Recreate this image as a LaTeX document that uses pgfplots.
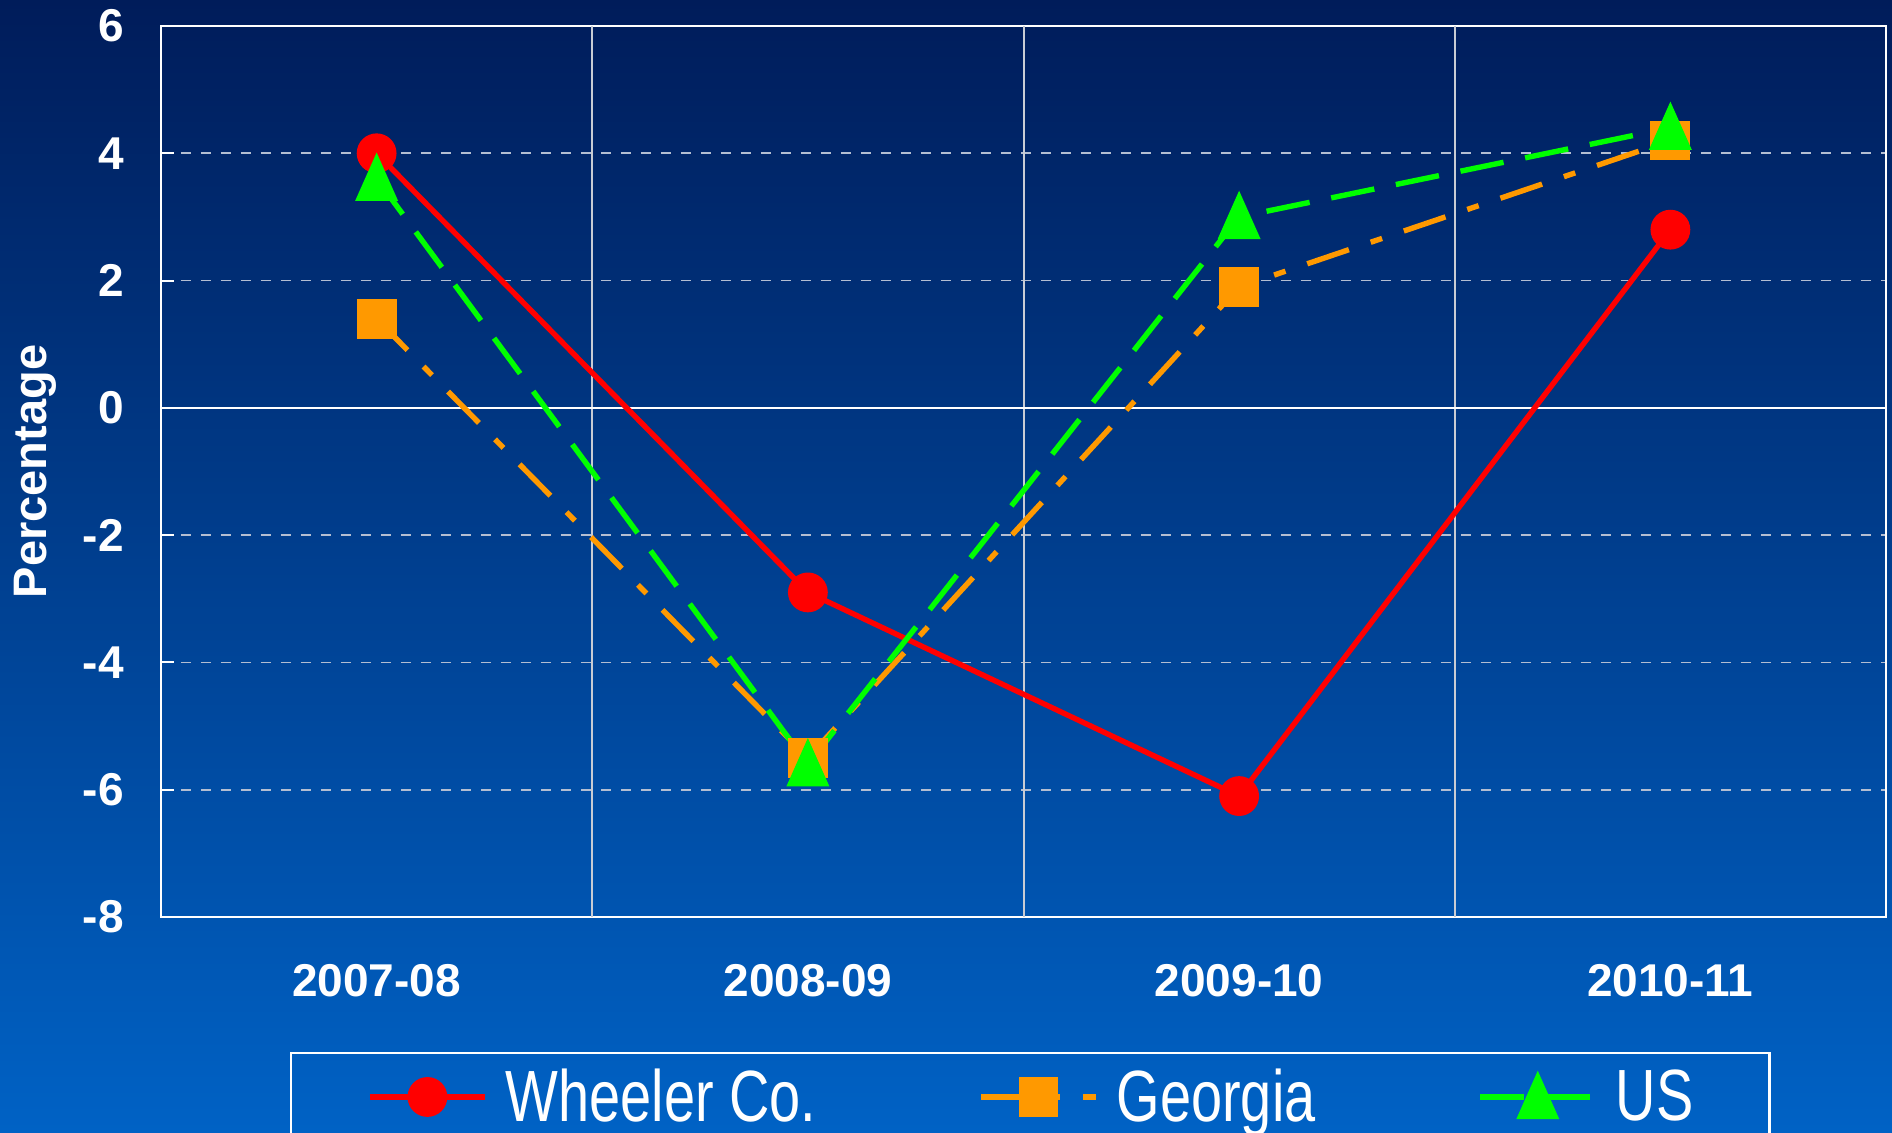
\documentclass[border=0pt]{standalone}
\usepackage{pgfplots}
\pgfplotsset{compat=1.18}
\usepackage{fontspec}
\setmainfont{Liberation Sans}
\newfontfamily\narrowfont[FakeStretch=0.77]{Liberation Sans}
\definecolor{bgtop}{HTML}{001C5A}
\definecolor{bgbot}{HTML}{0062C5}
\definecolor{ser1}{HTML}{FF0000}
\definecolor{ser2}{HTML}{FF9900}
\definecolor{ser3}{HTML}{00FF00}
\definecolor{gridc}{HTML}{B4BED2}
\definecolor{vgrid}{HTML}{C8CCD4}
\begin{document}
\begin{tikzpicture}
\useasboundingbox (0,0) rectangle (946pt,566.5pt);
\clip (0,0) rectangle (946pt,566.5pt);
\shade[top color=bgtop,bottom color=bgbot] (0,0) rectangle (946pt,566.5pt);
\begin{axis}[
  at={(80.5pt,108pt)}, anchor=south west,
  scale only axis, width=862.5pt, height=445.5pt,
  xmin=-0.5, xmax=3.5, ymin=-8, ymax=6,
  xtick={0,1,2,3}, xticklabels={2007-08,2008-09,2009-10,2010-11},
  ytick={-8,-6,-4,-2,0,2,4,6},
  /pgf/number format/assume math mode=true,
  axis line style={white, line width=1pt},
  tick align=inside,
  ytick pos=left,
  major tick length=6.5pt,
  y tick style={white, line width=1pt},
  x tick style={draw=none},
  ymajorgrids,
  major grid style={gridc, line width=0.8pt, dash pattern=on 5pt off 5pt},
  extra x ticks={0.5,1.5,2.5}, extra x tick labels={},
  extra x tick style={grid=major, major grid style={solid, vgrid, line width=1pt}},
  extra y ticks={0}, extra y tick labels={},
  extra y tick style={grid=major, major grid style={solid, white, line width=1.2pt}},
  yticklabel style={font=\bfseries\fontsize{23}{23}\selectfont, text=white, anchor=east, inner sep=0pt, xshift=-18.5pt},
  xticklabel style={font=\bfseries\fontsize{23}{23}\selectfont, text=white, anchor=north, inner sep=0pt, yshift=-23.5pt},
  ylabel={Percentage},
  ylabel style={font=\bfseries\fontsize{23.5}{23.5}\selectfont, text=white, at={(axis description cs:0,0.5)}, anchor=center, yshift=63pt},
  legend columns=3,
  legend style={at={(0.0748,-0.1515)}, anchor=north west, draw=white, line width=1.2pt, fill=none, text=white,
    font=\narrowfont\fontsize{36.3}{40}\selectfont, inner xsep=38pt, inner ysep=8pt,
    nodes={inner sep=0pt},
    /tikz/every even column/.append style={column sep=81pt},
    /tikz/every odd column/.append style={column sep=9pt}},
  legend image code/.code={\draw[mark repeat=2,mark phase=2,#1] plot coordinates {(0pt,0pt) (28.75pt,0pt) (57.5pt,0pt)};},
]
\addplot[color=ser1, line width=2.7pt, mark=*, mark size=8.6pt, mark options={solid}]
  coordinates {(0,4.0) (1,-2.9) (2,-6.1) (3,2.8)};
\addlegendentry{Wheeler Co.}
\addplot[color=ser2, line width=2.7pt, dash pattern=on 22pt off 11.5pt on 6pt off 11.5pt, mark=square*, mark size=8.6pt, mark options={solid}]
  coordinates {(0,1.4) (1,-5.5) (2,1.9) (3,4.2)};
\addlegendentry{Georgia}
\addplot[color=ser3, line width=2.7pt, dash pattern=on 22pt off 11pt, mark=triangle*, mark size=10pt, mark options={solid, yshift=-3.2pt, yscale=1.3}]
  coordinates {(0,3.6) (1,-5.6) (2,3.0) (3,4.4)};
\addlegendentry{US}
\end{axis}
\end{tikzpicture}
\end{document}
